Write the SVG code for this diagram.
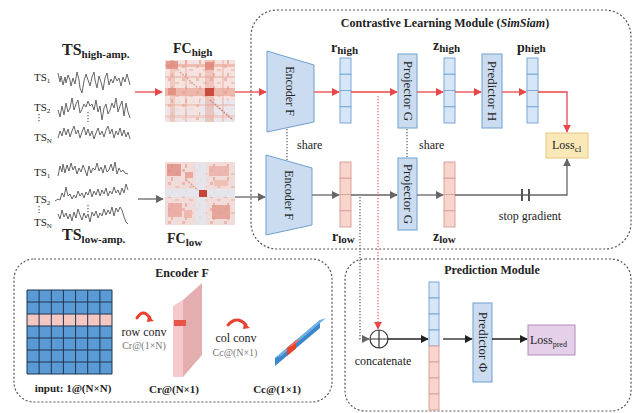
<svg xmlns="http://www.w3.org/2000/svg" width="634" height="413" viewBox="0 0 634 413" font-family="'Liberation Serif','DejaVu Serif','Times New Roman',serif">
<defs>
<marker id="ar" viewBox="0 0 10 10" refX="9" refY="5" markerWidth="8" markerHeight="8" markerUnits="userSpaceOnUse" orient="auto"><path d="M0,0 L10,5 L0,10 z" fill="#e8474a"/></marker>
<marker id="ag" viewBox="0 0 10 10" refX="9" refY="5" markerWidth="8" markerHeight="8" markerUnits="userSpaceOnUse" orient="auto"><path d="M0,0 L10,5 L0,10 z" fill="#666"/></marker>
<marker id="ak" viewBox="0 0 10 10" refX="9" refY="5" markerWidth="8" markerHeight="8" markerUnits="userSpaceOnUse" orient="auto"><path d="M0,0 L10,5 L0,10 z" fill="#222"/></marker>
<pattern id="tex" width="14" height="13" patternUnits="userSpaceOnUse"><rect x="0" y="0" width="3" height="3" fill="#e7a093"/><rect x="7" y="4" width="4" height="2" fill="#eab4a8"/><rect x="3" y="8" width="2" height="4" fill="#e39888"/><rect x="10" y="10" width="3" height="2" fill="#d9dfe9"/><rect x="5" y="2" width="2" height="1" fill="#dde3ec"/></pattern>
</defs>
<style>
text{font-family:'Liberation Serif','DejaVu Serif','Times New Roman',serif;fill:#222}
.b{font-weight:bold}
.g{fill:#777}
.mod{fill:none;stroke:#555;stroke-width:1.2;stroke-dasharray:2 2}
.blk{fill:#cbdcf0;stroke:#6f9fcf;stroke-width:1}
.vb{fill:#d6e6f7;stroke:#7aa8d8;stroke-width:1}
.vp{fill:#f8d4cc;stroke:#d9a39a;stroke-width:1}
.wave{fill:none;stroke:#666;stroke-width:1;stroke-linejoin:round}
.red{fill:none;stroke:#e8474a;stroke-width:1.3}
.gr{fill:none;stroke:#666;stroke-width:1.3}
.bk{fill:none;stroke:#222;stroke-width:1.3}
.dot{fill:none;stroke:#666;stroke-width:1.3;stroke-dasharray:1.3 1.7}
.rdot{fill:none;stroke:#e8474a;stroke-width:1.1;stroke-dasharray:1.3 1.7}
.arc{fill:none;stroke:#e8412e;stroke-width:3;stroke-linecap:round}
</style>

<!-- module frames -->
<rect class="mod" x="251" y="10" width="380" height="239" rx="26"/>
<rect class="mod" x="14" y="259" width="318" height="143" rx="20"/>
<rect class="mod" x="345" y="259" width="286" height="152" rx="20"/>
<text class="b" x="445" y="27" font-size="12" text-anchor="middle">Contrastive Learning Module  (<tspan font-style="italic">SimSiam</tspan>)</text>
<text class="b" x="182" y="277" font-size="12" text-anchor="middle">Encoder  F</text>
<text class="b" x="492" y="274" font-size="12" text-anchor="middle">Prediction Module</text>

<!-- time series high -->
<g id="ts-high">
<text class="b" x="62" y="55" font-size="16">TS<tspan font-size="11" dy="3">high-amp.</tspan></text>
<text x="34" y="81" font-size="11">TS<tspan font-size="7" dy="2">1</tspan></text>
<text x="34" y="111" font-size="11">TS<tspan font-size="7" dy="2">2</tspan></text>
<text x="34" y="141" font-size="11">TS<tspan font-size="7" dy="2">N</tspan></text>
<path class="dot" d="M39,114 V122 M88,112 V122"/>
<polyline class="wave" points="58,73 60,82 61,76 63,85 65,77 66,83 68,75 70,80 71,86 73,78 75,84 77,72 79,80 80,88 82,93 84,81 86,74 88,80 90,86 92,77 94,72 95,80 97,88 99,76 101,82 103,90 105,78 107,73 109,85 111,79 113,83 115,76 117,81 119,78 121,86 123,77 125,82 127,74 130,85"/>
<polyline class="wave" points="58,110 60,117 62,106 64,115 66,103 68,112 70,108 72,98 74,110 76,104 78,100 80,113 82,109 84,104 86,107 88,101 90,106 92,104 94,110 96,100 98,112 100,106 102,120 104,108 106,104 108,114 110,110 112,103 114,108 116,98 118,112 120,106 122,101 124,116 126,103 128,112 130,118"/>
<polyline class="wave" points="58,138 60,131 62,136 64,128 66,135 68,129 70,137 72,131 74,126 76,134 78,130 80,138 82,132 84,127 86,135 88,129 90,136 92,131 94,139 96,133 98,128 100,135 102,131 104,137 106,130 108,126 110,134 112,129 114,138 116,131 118,135 120,128 122,136 124,130 126,137 128,132 130,139"/>
</g>

<!-- time series low -->
<g id="ts-low">
<text x="34" y="176" font-size="11">TS<tspan font-size="7" dy="2">1</tspan></text>
<text x="34" y="203" font-size="11">TS<tspan font-size="7" dy="2">2</tspan></text>
<text x="34" y="226" font-size="11">TS<tspan font-size="7" dy="2">N</tspan></text>
<path class="dot" d="M39,206 V213 M88,205 V213"/>
<polyline class="wave" points="58,176 60,166 62,172 63,164 65,173 67,165 69,171 71,163 73,170 75,166 77,174 79,168 81,172 83,165 85,170 87,176 89,166 91,173 93,168 95,170 97,163 99,171 101,167 103,173 105,165 107,172 109,170 111,164 113,171 115,162 117,174 119,168 121,172 123,170 125,173 128,174"/>
<polyline class="wave" points="55,201 58,199 60,200 62,193 64,197 66,187 68,196 70,194 72,199 74,195 76,198 78,191 80,196 82,193 84,198 86,192 88,195 90,189 92,197 94,191 96,195 98,189 100,196 102,190 104,194 106,188 108,196 110,191 112,194 114,187 116,193 118,190 120,195 122,188 124,193 126,184 128,190"/>
<polyline class="wave" points="58,214 60,219 62,210 64,217 66,213 68,219 70,214 72,221 74,212 76,218 78,209 80,215 82,220 84,213 86,218 88,214 90,222 92,212 94,216 96,211 98,218 100,213 102,216 104,209 106,215 108,210 110,214 112,207 114,216 116,208 118,212 120,207 122,210 124,217 126,222 128,224"/>
<text class="b" x="62" y="240" font-size="16">TS<tspan font-size="11" dy="3">low-amp.</tspan></text>
</g>

<!-- FC high heatmap -->
<g id="fc-high">
<text class="b" x="173" y="53" font-size="14">FC<tspan font-size="11" dy="3">high</tspan></text>
<rect x="165" y="60" width="70" height="62" fill="#f6e3df"/>
<rect x="165" y="60" width="70" height="62" fill="url(#tex)" opacity="0.6"/>
<rect x="200" y="100" width="35" height="22" fill="#e7e9f0" opacity="0.8"/>
<rect x="165" y="108" width="28" height="14" fill="#ece6ea" opacity="0.7"/>
<rect x="165" y="64" width="70" height="3" fill="#e9a596" opacity="0.6"/>
<rect x="165" y="76" width="70" height="2" fill="#eab3a6" opacity="0.6"/>
<rect x="165" y="88" width="70" height="8" fill="#e89b8a" opacity="0.6"/>
<rect x="165" y="104" width="70" height="2" fill="#eab3a6" opacity="0.5"/>
<rect x="165" y="115" width="70" height="3" fill="#eec0b5" opacity="0.6"/>
<rect x="170" y="60" width="5" height="62" fill="#e9a99b" opacity="0.45"/>
<rect x="185" y="60" width="2" height="62" fill="#e9a99b" opacity="0.45"/>
<rect x="205" y="60" width="9" height="62" fill="#e69585" opacity="0.4"/>
<rect x="222" y="60" width="2" height="62" fill="#e9a99b" opacity="0.45"/>
<rect x="166" y="61" width="12" height="8" fill="#de8a7c" opacity="0.8"/>
<rect x="205" y="62" width="9" height="8" fill="#e08676" opacity="0.8"/>
<rect x="205" y="88" width="9" height="8" fill="#c94c40"/>
<rect x="168" y="88" width="8" height="7" fill="#df8b7d" opacity="0.8"/>
<path d="M210,100 L233,120" stroke="#d48a80" stroke-width="1.5" stroke-dasharray="2 1"/>
<path d="M180,72 L198,88" stroke="#e0a59a" stroke-width="1.5" stroke-dasharray="2 1"/>
</g>

<!-- FC low heatmap -->
<g id="fc-low">
<rect x="165" y="162" width="70" height="63" fill="#f2dcda"/>
<rect x="165" y="162" width="70" height="63" fill="url(#tex)" opacity="0.6"/>
<rect x="196" y="162" width="10" height="63" fill="#e3e6ee" opacity="0.85"/>
<rect x="165" y="189" width="70" height="8" fill="#e3e6ee" opacity="0.85"/>
<rect x="167" y="164" width="14" height="12" fill="#e08b80" opacity="0.8"/>
<rect x="209" y="166" width="20" height="10" fill="#eab0a6" opacity="0.85"/>
<rect x="168" y="203" width="14" height="14" fill="#e9a79c" opacity="0.85"/>
<rect x="212" y="205" width="18" height="14" fill="#e4988c" opacity="0.8"/>
<rect x="185" y="172" width="8" height="6" fill="#eaa89d"/>
<rect x="184" y="210" width="8" height="8" fill="#eeb8ae"/>
<rect x="214" y="180" width="14" height="6" fill="#efc0b6"/>
<rect x="199" y="190" width="8" height="7" fill="#c9453a"/>
<path d="M186,180 L198,190" stroke="#e0a59a" stroke-width="1.5" stroke-dasharray="2 1"/>
<text class="b" x="167" y="243" font-size="14">FC<tspan font-size="11" dy="3">low</tspan></text>
</g>

<!-- encoders -->
<g id="encoder-high">
<polygon class="blk" points="267,51 314,65 314,122 267,132"/>
<text transform="translate(290,91) rotate(90)" font-size="12" text-anchor="middle" dy="4">Encoder  F</text>
</g>
<g id="encoder-low">
<polygon class="blk" points="266,155 312,168 312,225 266,235"/>
<text transform="translate(289,195) rotate(90)" font-size="12" text-anchor="middle" dy="4">Encoder  F</text>
</g>

<!-- vectors high -->
<g id="r-high">
<text class="b" x="331" y="52" font-size="14">r<tspan font-size="11" dy="2">high</tspan></text>
<rect class="vb" x="340" y="58" width="11" height="16.25"/><rect class="vb" x="340" y="74.25" width="11" height="16.25"/><rect class="vb" x="340" y="90.5" width="11" height="16.25"/><rect class="vb" x="340" y="106.75" width="11" height="16.25"/>
</g>
<g id="projector-high">
<rect class="blk" x="398" y="54" width="19" height="74"/>
<text transform="translate(407.5,91) rotate(90)" font-size="13" text-anchor="middle" dy="4">Projector  G</text>
</g>
<g id="z-high">
<text class="b" x="433" y="50" font-size="14">z<tspan font-size="11" dy="2">high</tspan></text>
<rect class="vb" x="444" y="58" width="11" height="16.25"/><rect class="vb" x="444" y="74.25" width="11" height="16.25"/><rect class="vb" x="444" y="90.5" width="11" height="16.25"/><rect class="vb" x="444" y="106.75" width="11" height="16.25"/>
</g>
<g id="predictor-h">
<rect class="blk" x="482" y="54" width="20" height="74"/>
<text transform="translate(492,91) rotate(90)" font-size="13" text-anchor="middle" dy="4">Predictor  H</text>
</g>
<g id="p-high">
<text class="b" x="517" y="52" font-size="14">p<tspan font-size="11">high</tspan></text>
<rect class="vb" x="527" y="58" width="11" height="16.25"/><rect class="vb" x="527" y="74.25" width="11" height="16.25"/><rect class="vb" x="527" y="90.5" width="11" height="16.25"/><rect class="vb" x="527" y="106.75" width="11" height="16.25"/>
</g>
<g id="loss-cl">
<rect x="546" y="133" width="42" height="25" fill="#fbe8b8" stroke="#e5c67e" stroke-width="1"/>
<text x="552" y="149" font-size="12">Loss<tspan font-size="9" dy="3">cl</tspan></text>
</g>

<!-- vectors low -->
<g id="r-low">
<rect class="vp" x="340" y="162" width="11" height="16.25"/><rect class="vp" x="340" y="178.25" width="11" height="16.25"/><rect class="vp" x="340" y="194.5" width="11" height="16.25"/><rect class="vp" x="340" y="210.75" width="11" height="16.25"/>
<text class="b" x="332" y="241" font-size="14">r<tspan font-size="11" dy="2">low</tspan></text>
</g>
<g id="projector-low">
<rect class="blk" x="398" y="158" width="19" height="72"/>
<text transform="translate(407.5,194) rotate(90)" font-size="13" text-anchor="middle" dy="4">Projector  G</text>
</g>
<g id="z-low">
<rect class="vp" x="444" y="162" width="11" height="16.25"/><rect class="vp" x="444" y="178.25" width="11" height="16.25"/><rect class="vp" x="444" y="194.5" width="11" height="16.25"/><rect class="vp" x="444" y="210.75" width="11" height="16.25"/>
<text class="b" x="433" y="241" font-size="14">z<tspan font-size="11" dy="2">low</tspan></text>
</g>
<text x="297" y="149" font-size="12">share</text>
<text x="419" y="149" font-size="12">share</text>
<text x="530" y="220" font-size="12" text-anchor="middle">stop gradient</text>

<!-- prediction module nodes -->
<g id="concat">
<circle cx="379" cy="339" r="9" fill="#fff" stroke="#333" stroke-width="1.2"/>
<path d="M370,339 H388 M379,330 V348" stroke="#333" stroke-width="1.2"/>
<text x="383" y="365" font-size="12" text-anchor="middle">concatenate</text>
</g>
<g id="concat-vector">
<rect class="vb" x="429" y="282" width="10" height="16"/><rect class="vb" x="429" y="298" width="10" height="16"/><rect class="vb" x="429" y="314" width="10" height="16"/><rect class="vb" x="429" y="330" width="10" height="16"/>
<rect class="vp" x="429" y="346" width="10" height="16"/><rect class="vp" x="429" y="362" width="10" height="16"/><rect class="vp" x="429" y="378" width="10" height="16"/><rect class="vp" x="429" y="394" width="10" height="16"/>
</g>
<g id="predictor-phi">
<rect class="blk" x="473" y="303" width="19" height="79"/>
<text transform="translate(482.5,342) rotate(90)" font-size="13" text-anchor="middle" dy="4">Predictor  Φ</text>
</g>
<g id="loss-pred">
<rect x="528" y="325" width="47" height="30" fill="#e4d0e8" stroke="#b28bbb" stroke-width="1"/>
<text x="530" y="344" font-size="12">Loss<tspan font-size="8" dy="3">pred</tspan></text>
</g>

<!-- encoder F detail -->
<g id="encoder-detail">
<rect x="27" y="290" width="85" height="84" fill="#5b9bd5"/>
<rect x="27" y="314" width="85" height="12" fill="#f4c7c3"/>
<path d="M27,290 H112 M27,302 H112 M27,314 H112 M27,326 H112 M27,338 H112 M27,350 H112 M27,362 H112 M27,374 H112 M27,290 V374 M39.1,290 V374 M51.3,290 V374 M63.4,290 V374 M75.6,290 V374 M87.7,290 V374 M99.9,290 V374 M112,290 V374" stroke="#1e3550" stroke-width="1" fill="none"/>
<path class="arc" d="M137,318 Q143,308 150,318"/>
<path d="M148,316 L154,321 L147,322 z" fill="#e8412e"/>
<text x="144" y="336" font-size="12" text-anchor="middle">row conv</text>
<text class="g" x="144" y="349" font-size="10" text-anchor="middle">Cr@(1×N)</text>
<polygon points="183,300 202,283 202,355 183,377" fill="#e4aeb0"/>
<polygon points="173,306 183,300 183,377 173,377" fill="#f5c9cb"/>
<rect x="174" y="320" width="12" height="6" fill="#e8534a"/>
<path class="arc" d="M228,325 Q237,315 246,325"/>
<path d="M244,323 L250,328 L243,329 z" fill="#e8412e"/>
<text x="236" y="342" font-size="12" text-anchor="middle">col conv</text>
<text class="g" x="235" y="356" font-size="10" text-anchor="middle">Cc@(N×1)</text>
<polygon points="275,358 320,320 320,328 275,366" fill="#3d86cc"/>
<polygon points="275,358 320,320 326,318 281,356" fill="#6fb0e8"/>
<polygon points="287,348 296,340.5 296,348.5 287,356" fill="#e8412e"/>
<polygon points="287,348 296,340.5 301,339 292,346" fill="#f06a5a"/>
<text class="b" x="73" y="392" font-size="11" text-anchor="middle">input: 1@(N×N)</text>
<text class="b" x="174" y="393" font-size="11" text-anchor="middle">Cr@(N×1)</text>
<text class="b" x="277" y="393" font-size="11" text-anchor="middle">Cc@(1×1)</text>
</g>

<!-- connectors -->
<g id="connectors">
<path class="red" d="M135,92 H162" marker-end="url(#ar)"/>
<path class="red" d="M235,92 H266" marker-end="url(#ar)"/>
<path class="red" d="M314,92 H339" marker-end="url(#ar)"/>
<path class="red" d="M351,92 H397" marker-end="url(#ar)"/>
<path class="red" d="M417,92 H443" marker-end="url(#ar)"/>
<path class="red" d="M455,92 H481" marker-end="url(#ar)"/>
<path class="red" d="M502,92 H526" marker-end="url(#ar)"/>
<path class="red" d="M538,92 H567 V132" marker-end="url(#ar)"/>
<path class="gr" d="M138,199 H163" marker-end="url(#ag)"/>
<path class="gr" d="M235,197 H265" marker-end="url(#ag)"/>
<path class="gr" d="M312,195 H339" marker-end="url(#ag)"/>
<path class="gr" d="M351,195 H397" marker-end="url(#ag)"/>
<path class="gr" d="M417,195 H443" marker-end="url(#ag)"/>
<path class="gr" d="M455,195 H567 V159" marker-end="url(#ag)"/>
<path d="M522,189 V201 M529,189 V201" stroke="#555" stroke-width="2"/>
<path class="dot" d="M287,129 V160"/>
<path class="dot" d="M407,129 V157"/>
<path class="rdot" d="M378,96 V329" marker-end="url(#ar)"/>
<path class="dot" d="M360,197 V339 H369" marker-end="url(#ag)"/>
<path class="bk" d="M388,339 H428" marker-end="url(#ak)"/>
<path class="bk" d="M443,339 H472" marker-end="url(#ak)"/>
<path class="bk" d="M492,339 H527" marker-end="url(#ak)"/>
</g>
</svg>
